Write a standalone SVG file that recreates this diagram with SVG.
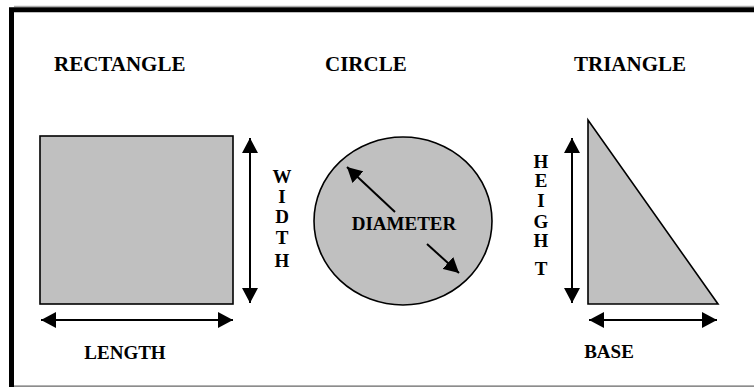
<svg xmlns="http://www.w3.org/2000/svg" width="754" height="387" viewBox="0 0 754 387">
<style>
.title{font-family:"Liberation Serif","Times New Roman",serif;font-weight:bold;font-size:21px;fill:#000}
.lbl{font-family:"Liberation Serif","Times New Roman",serif;font-weight:bold;font-size:19px;fill:#000;text-anchor:middle}
.shape{fill:#c0c0c0;stroke:#000;stroke-width:1.6}
.arr{stroke:#000;stroke-width:2;fill:none;marker-start:url(#ah);marker-end:url(#ah)}
.arr1{stroke:#000;stroke-width:2;fill:none;marker-end:url(#ah)}
</style>
<defs>
<marker id="ah" viewBox="0 0 15 16" refX="15" refY="8" markerWidth="15" markerHeight="16" markerUnits="userSpaceOnUse" orient="auto-start-reverse">
<path d="M0,0 L15,8 L0,16 z" fill="#000"/>
</marker>
</defs>
<rect width="754" height="387" fill="#fff"/>
<g id="frame">
<line x1="14" y1="6.3" x2="754" y2="6.3" stroke="#999" stroke-width="1"/>
<path d="M11.5,387 L11.5,9.8 L754,9.8" fill="none" stroke="#000" stroke-width="5"/>
<line x1="14" y1="386.2" x2="754" y2="386.2" stroke="#666" stroke-width="1.2"/>
</g>
<g id="rectangle">
<text class="title" x="54" y="71">RECTANGLE</text>
<rect class="shape" x="40" y="136" width="193" height="168"/>
</g>
<g id="circle">
<text class="title" x="325" y="71">CIRCLE</text>
<ellipse class="shape" cx="403" cy="221" rx="89" ry="84"/>
<text class="lbl" x="404" y="230">DIAMETER</text>
</g>
<g id="triangle">
<text class="title" x="574" y="71">TRIANGLE</text>
<path class="shape" d="M588,120 L588,304 L718,304 z"/>
</g>
<g id="connectors">
<line class="arr" x1="250" y1="138" x2="250" y2="303"/>
<line class="arr" x1="41" y1="320" x2="233" y2="320"/>
<line class="arr1" x1="395" y1="212" x2="347" y2="167"/>
<line class="arr1" x1="427" y1="244" x2="459" y2="273"/>
<line class="arr" x1="572" y1="138" x2="572" y2="303"/>
<line class="arr" x1="589" y1="320" x2="717" y2="320"/>
</g>
<g id="labels">
<text class="lbl" x="282" y="183">W</text>
<text class="lbl" x="282" y="203">I</text>
<text class="lbl" x="282" y="223">D</text>
<text class="lbl" x="282" y="244">T</text>
<text class="lbl" x="282" y="267">H</text>
<text class="lbl" x="125" y="359">LENGTH</text>
<text class="lbl" x="541" y="168">H</text>
<text class="lbl" x="541" y="187">E</text>
<text class="lbl" x="541" y="207">I</text>
<text class="lbl" x="541" y="228">G</text>
<text class="lbl" x="541" y="247">H</text>
<text class="lbl" x="541" y="275">T</text>
<text class="lbl" x="609" y="358">BASE</text>
</g>
</svg>
